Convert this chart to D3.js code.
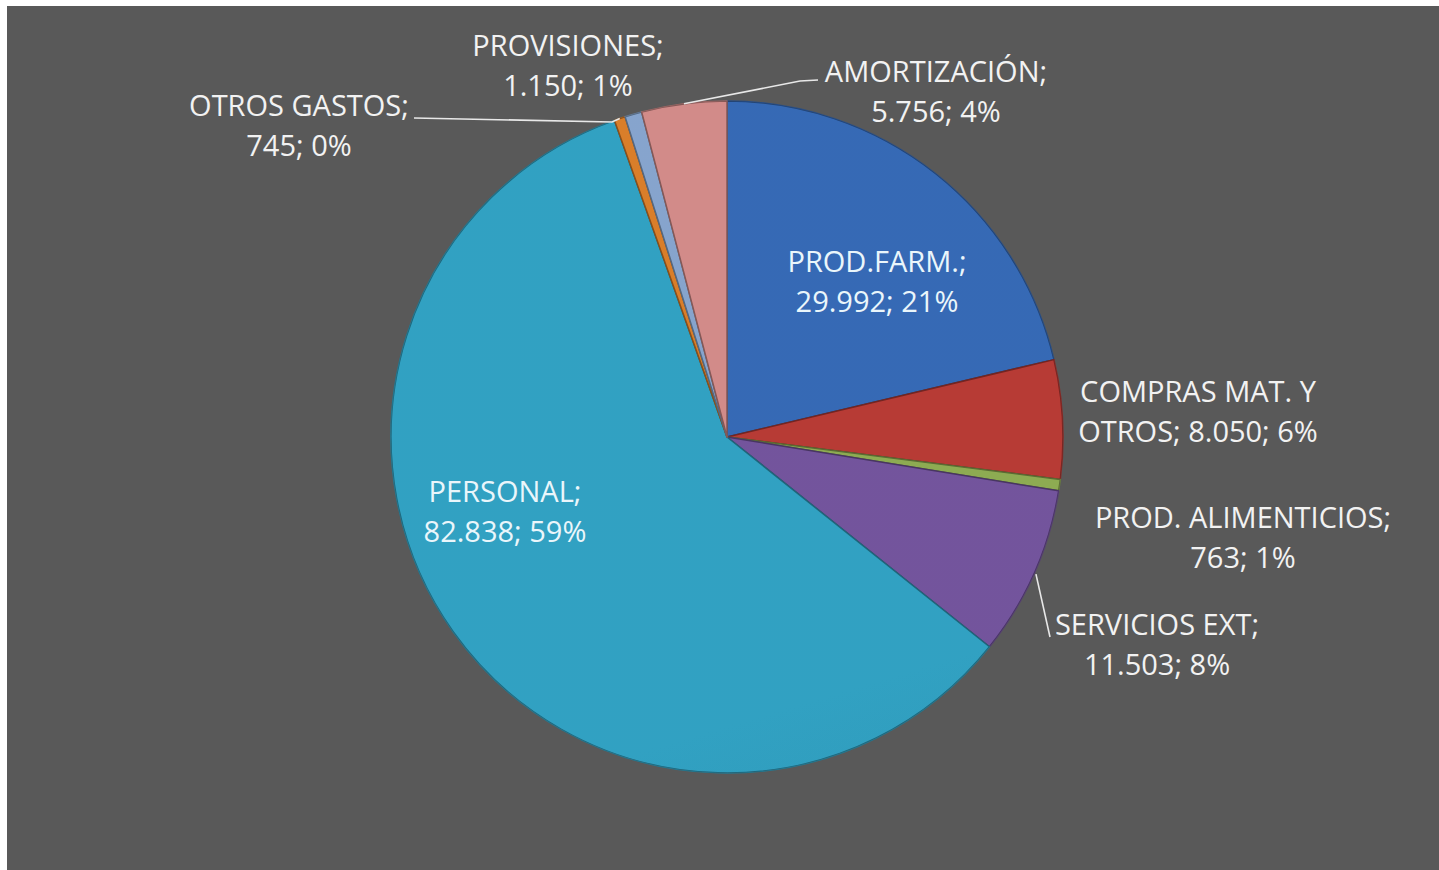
<!DOCTYPE html>
<html><head><meta charset="utf-8">
<script src="https://cdn.jsdelivr.net/npm/d3@7"></script>
<style>html,body{margin:0;padding:0;background:#fff;overflow:hidden}</style>
</head><body>
<svg id="chart" width="1439" height="870"></svg>
<script>
const categories = ["PROD.FARM.", "COMPRAS MAT. Y OTROS", "PROD. ALIMENTICIOS", "SERVICIOS EXT", "PERSONAL", "OTROS GASTOS", "PROVISIONES", "AMORTIZACIÓN"];
const values = [29992, 8050, 763, 11503, 82838, 745, 1150, 5756];
const valueLabels = ["29.992", "8.050", "763", "11.503", "82.838", "745", "1.150", "5.756"];
const percentLabels = ["21%", "6%", "1%", "8%", "59%", "0%", "1%", "4%"];
const labelLines = [
  ["PROD.FARM.;", "29.992; 21%"],
  ["COMPRAS MAT. Y", "OTROS; 8.050; 6%"],
  ["PROD. ALIMENTICIOS;", "763; 1%"],
  ["SERVICIOS EXT;", "11.503; 8%"],
  ["PERSONAL;", "82.838; 59%"],
  ["OTROS GASTOS;", "745; 0%"],
  ["PROVISIONES;", "1.150; 1%"],
  ["AMORTIZACIÓN;", "5.756; 4%"]
];
const colors = ["#3b73c6", "#c8403a", "#9bbb59", "#7e5cab", "#36b0d4", "#ee8a2e", "#93b4e0", "#e69896"];

const svg = d3.select("#chart");
const W = 1439, H = 870;
svg.append("rect").attr("x", 0).attr("y", 0).attr("width", W).attr("height", H).attr("fill", "#fff");
svg.append("rect").attr("x", 7).attr("y", 6).attr("width", W - 7).attr("height", H - 6).attr("fill", "#595959");

const cx = 727, cy = 437, R = 336;
const pie = d3.pie().sort(null).value(d => d)(values);
const arc = d3.arc().innerRadius(0).outerRadius(R);

const defs = svg.append("defs");
colors.forEach((c, i) => {
  const g = defs.append("linearGradient").attr("id", "g" + i)
    .attr("gradientUnits", "userSpaceOnUse")
    .attr("x1", cx - R * 0.3).attr("y1", cy - R).attr("x2", cx + R * 0.3).attr("y2", cy + R);
  g.append("stop").attr("offset", "0").attr("stop-color", d3.color(c).brighter(0.2));
  g.append("stop").attr("offset", "0.5").attr("stop-color", c);
  g.append("stop").attr("offset", "1").attr("stop-color", d3.color(c).darker(0.4));
});
const rg = defs.append("radialGradient").attr("id", "sheen")
  .attr("gradientUnits", "userSpaceOnUse").attr("cx", cx).attr("cy", cy).attr("r", R);
rg.append("stop").attr("offset", "0.86").attr("stop-color", "#fff").attr("stop-opacity", 0);
rg.append("stop").attr("offset", "0.97").attr("stop-color", "#fff").attr("stop-opacity", 0.12);
rg.append("stop").attr("offset", "1").attr("stop-color", "#000").attr("stop-opacity", 0.15);

const g = svg.append("g").attr("transform", `translate(${cx},${cy})`);
g.selectAll("path.slice").data(pie).enter().append("path").attr("class", "slice")
  .attr("d", arc)
  .attr("fill", (d, i) => `url(#g${i})`)
  .attr("stroke", (d, i) => d3.color(colors[i]).darker(1.1))
  .attr("stroke-width", 1.5)
  .attr("stroke-linejoin", "round");
g.selectAll("path.sheen").data(pie).enter().append("path").attr("class", "sheen")
  .attr("d", arc).attr("fill", "url(#sheen)");

const labelPos = [
  [877, 262], [1198, 392], [1243, 518], [1157, 625],
  [505, 492], [299, 106], [568, 46], [936, 72]
];
const lineH = 39.5;

const leader = d3.line();
function edgePoint(i, r) {
  const a = (pie[i].startAngle + pie[i].endAngle) / 2;
  return [cx + r * Math.sin(a), cy - r * Math.cos(a)];
}
const leaders = [
  [edgePoint(3, R + 2), [1050, 637]],
  [edgePoint(5, R), [612, 122], [414, 118]],
  [edgePoint(7, R), [800, 81], [818, 80]]
];
svg.selectAll("path.leader").data(leaders).enter().append("path").attr("class", "leader")
  .attr("d", leader).attr("fill", "none").attr("stroke", "#e8e8e8").attr("stroke-width", 1.6);

const fontFamily = "'Open Sans', 'Noto Sans', sans-serif";
labelLines.forEach((lines, i) => {
  const t = svg.append("text")
    .attr("x", labelPos[i][0]).attr("y", labelPos[i][1])
    .attr("text-anchor", "middle")
    .attr("font-family", fontFamily)
    .attr("font-size", 29)
    .attr("letter-spacing", 0)
    .attr("fill", i === 4 || i === 0 ? "#eaf6fb" : "#f2f2f2");
  lines.forEach((s, k) => {
    t.append("tspan").attr("x", labelPos[i][0]).attr("y", labelPos[i][1] + k * lineH + 10).text(s);
  });
});
</script>
</body></html>
